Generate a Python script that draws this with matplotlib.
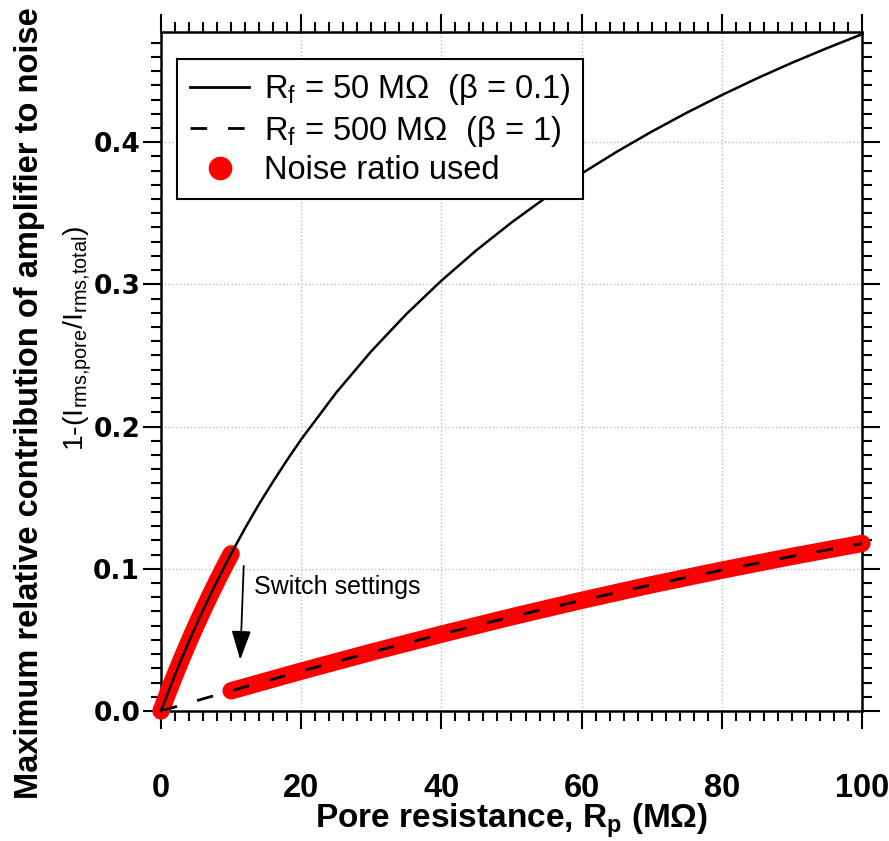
import matplotlib
matplotlib.use("Agg")
import matplotlib.pyplot as plt
from matplotlib.lines import Line2D
from matplotlib.ticker import MultipleLocator

plt.rcParams['font.family'] = ['Liberation Sans', 'DejaVu Sans']
plt.rcParams['mathtext.fontset'] = 'custom'
plt.rcParams['mathtext.rm'] = 'Liberation Sans'
plt.rcParams['mathtext.it'] = 'Liberation Sans'
plt.rcParams['mathtext.bf'] = 'Liberation Sans:bold'

# ---------------- data ----------------
rp_solid = [0, 1, 2, 3, 4, 5, 6, 7, 8, 9, 10, 12, 14, 16, 18, 20, 25, 30, 35,
            40, 45, 50, 55, 60, 65, 70, 75, 80, 85, 90, 95, 100]
ratio_rf50 = [0.0, 0.0129, 0.0254, 0.0374, 0.0490, 0.0601, 0.0709, 0.0813,
              0.0914, 0.1011, 0.1105, 0.1286, 0.1456, 0.1614, 0.1766, 0.1910,
              0.2239, 0.2530, 0.2791, 0.3026, 0.3240, 0.3435, 0.3614, 0.3779,
              0.3932, 0.4074, 0.4207, 0.4331, 0.4448, 0.4558, 0.4661, 0.4759]

rp_dash = [0, 10, 20, 30, 40, 50, 60, 70, 80, 90, 100]
ratio_rf500 = [0.0, 0.0142, 0.0280, 0.0413, 0.0540, 0.0662, 0.0778, 0.0888,
               0.0990, 0.1087, 0.1178]

# noise ratio used: Rf=50 MOhm up to 10 MOhm, then Rf=500 MOhm
used_x1 = [0, 1, 2, 3, 4, 5, 6, 7, 8, 9, 10]
used_y1 = [0.0, 0.0129, 0.0254, 0.0374, 0.0490, 0.0601, 0.0709, 0.0813,
           0.0914, 0.1011, 0.1105]
used_x2 = [10, 20, 30, 40, 50, 60, 70, 80, 90, 100]
used_y2 = [0.0142, 0.0280, 0.0413, 0.0540, 0.0662, 0.0778, 0.0888, 0.0990,
           0.1087, 0.1178]

x_ticks = [0, 20, 40, 60, 80, 100]
y_ticks = [0.0, 0.1, 0.2, 0.3, 0.4]
legend_labels = ["R$_\\mathregular{f}$ = 50 M\u03A9  (\u03B2 = 0.1)",
                 "R$_\\mathregular{f}$ = 500 M\u03A9  (\u03B2 = 1)",
                 "Noise ratio used"]

# ---------------- figure ----------------
fig = plt.figure(figsize=(8.89, 8.41), dpi=100)
ax = fig.add_axes([0.1811, 0.1546, 0.7885, 0.8074])

ax.plot(used_x1, used_y1, color='#ff0000', lw=12.5, solid_capstyle='round',
        solid_joinstyle='round', clip_on=False, zorder=3)
ax.plot(used_x2, used_y2, color='#ff0000', lw=12.5, solid_capstyle='round',
        solid_joinstyle='round', clip_on=False, zorder=3)
ax.plot(rp_solid, ratio_rf50, color='black', lw=1.8, zorder=4, clip_on=False)
ax.plot(rp_dash, ratio_rf500, color='black', lw=2, dashes=(6, 7.5), zorder=4)

ax.set_xlim(0, 100)
ax.set_ylim(0, 0.4775)

ax.xaxis.set_minor_locator(MultipleLocator(2))
ax.yaxis.set_minor_locator(MultipleLocator(0.01))
ax.set_xticks(x_ticks)
ax.set_yticks(y_ticks)
ax.set_xticklabels([str(v) for v in x_ticks])
ax.set_yticklabels([f"{v:.1f}" for v in y_ticks])

ax.grid(True, which='major', color='#b8b8e0', linestyle=':', lw=1)
ax.set_axisbelow(True)

for s in ax.spines.values():
    s.set_linewidth(1.8)

ax.tick_params(which='both', direction='out', top=True, right=True,
               width=1.5, color='black')
ax.tick_params(which='major', length=13)
ax.tick_params(which='minor', length=7)
ax.tick_params(axis='x', which='major', pad=32)
ax.tick_params(axis='y', which='major', pad=2)

for lab in ax.get_xticklabels():
    lab.set_fontweight('bold')
    lab.set_fontsize(23.5)
for lab in ax.get_yticklabels():
    lab.set_fontfamily(['DejaVu Sans'])
    lab.set_fontweight('bold')
    lab.set_fontsize(19)

# axis labels
fig.text(0.5754, 1 - 821 / 841, "Pore resistance, R$_\\mathbf{p}$ (M\u03A9)",
         ha='center', va='center', fontsize=24, fontweight='bold')
fig.text(30 / 889, 1 - 403 / 841,
         "Maximum relative contribution of amplifier to noise",
         rotation=90, ha='center', va='center', fontsize=23.5,
         fontweight='bold')
fig.text(78 / 889, 1 - 338 / 841,
         "1-(I$_\\mathregular{rms{,}pore}$/I$_\\mathregular{rms{,}total}$)",
         rotation=90, ha='center', va='center', fontsize=20.5)

# annotation
ax.annotate("", xy=(11.3, 0.036), xytext=(11.8, 0.102),
            arrowprops=dict(arrowstyle='-|>,head_length=0.9,head_width=0.3',
                            color='black', lw=1.3, mutation_scale=20,
                            shrinkA=0, shrinkB=0))
ax.text(13.3, 0.087, "Switch settings", fontsize=18, ha='left', va='center')

# legend
handles = [Line2D([], [], color='black', lw=2),
           Line2D([], [], color='black', lw=2, dashes=(6, 7.5)),
           Line2D([], [], color='#ff0000', marker='o', markersize=16,
                  linestyle='None')]
leg = ax.legend(handles, legend_labels, loc='upper left',
                bbox_to_anchor=(0.023, 0.960), borderaxespad=0,
                fontsize=23.5, frameon=True, fancybox=False, framealpha=1,
                edgecolor='black', handlelength=1.8, handletextpad=0.45,
                labelspacing=0.2, borderpad=0.4)
leg.get_frame().set_linewidth(1.5)

fig.savefig("out.png", dpi=100)
